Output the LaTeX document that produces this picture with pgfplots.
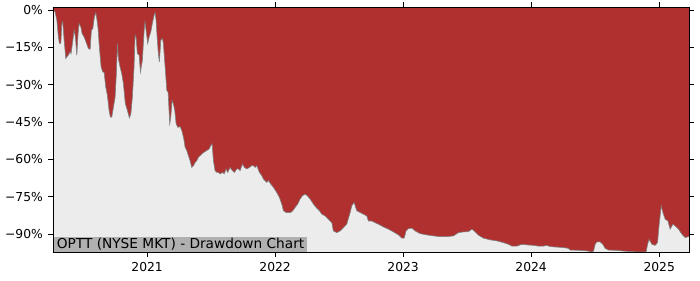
\documentclass[border=0pt]{standalone}
\usepackage{fontspec}
\setmainfont{DejaVu Sans}
\usepackage{pgfplots}
\usepackage{pgfplotstable}
\pgfplotsset{compat=1.18}
\definecolor{ddred}{RGB}{176,48,48}
\definecolor{bggray}{RGB}{236,236,236}
\definecolor{boxgray}{RGB}{176,176,176}
\pgfplotstableread{
x y
2020.268 0
2020.281 -0.7
2020.295 -4.0
2020.307 -10.8
2020.315 -13.4
2020.326 -13.4
2020.334 -5.4
2020.341 -4.7
2020.352 -12.1
2020.365 -19.5
2020.373 -18.8
2020.385 -18.1
2020.398 -16.8
2020.406 -17.5
2020.420 -12.1
2020.430 -8.1
2020.440 -10.8
2020.451 -18.1
2020.461 -9.4
2020.469 -5.4
2020.482 -6.7
2020.492 -9.4
2020.508 -10.8
2020.523 -12.8
2020.541 -15.4
2020.555 -15.8
2020.565 -8.1
2020.576 -7.4
2020.588 -2.7
2020.599 -1.1
2020.607 -3.3
2020.617 -7.4
2020.627 -14.8
2020.641 -22.9
2020.654 -24.9
2020.664 -24.9
2020.677 -30.9
2020.690 -34.3
2020.703 -40.3
2020.713 -43.0
2020.724 -43.0
2020.737 -39.0
2020.750 -35.0
2020.760 -25.5
2020.768 -13.4
2020.776 -19.5
2020.789 -22.9
2020.802 -25.5
2020.815 -29.6
2020.830 -37.6
2020.846 -40.3
2020.862 -43.3
2020.873 -41.7
2020.885 -35.0
2020.898 -22.9
2020.906 -10.1
2020.914 -10.8
2020.924 -17.5
2020.938 -18.1
2020.948 -24.9
2020.963 -20.2
2020.977 -8.1
2020.984 -4.7
2020.995 -9.4
2021.005 -13.4
2021.016 -10.8
2021.029 -8.7
2021.041 -5.4
2021.055 -2.0
2021.063 -1.1
2021.070 -4.0
2021.080 -12.1
2021.088 -17.5
2021.096 -20.8
2021.107 -12.1
2021.120 -11.4
2021.127 -13.4
2021.141 -22.9
2021.154 -32.3
2021.164 -32.9
2021.177 -45.7
2021.185 -43.0
2021.195 -36.3
2021.205 -37.6
2021.216 -40.3
2021.227 -45.7
2021.240 -47.1
2021.258 -46.8
2021.271 -48.4
2021.284 -51.1
2021.289 -52.4
2021.297 -55.1
2021.310 -56.4
2021.323 -58.5
2021.336 -60.5
2021.349 -63.2
2021.362 -62.5
2021.375 -61.2
2021.388 -60.5
2021.401 -59.1
2021.414 -58.5
2021.427 -57.8
2021.445 -57.1
2021.466 -56.4
2021.484 -55.8
2021.498 -54.4
2021.508 -53.7
2021.518 -60.5
2021.531 -64.5
2021.545 -65.2
2021.557 -65.2
2021.570 -65.8
2021.591 -65.2
2021.602 -65.8
2021.617 -63.8
2021.630 -65.2
2021.648 -63.2
2021.666 -64.5
2021.682 -65.2
2021.701 -63.8
2021.713 -63.8
2021.727 -64.5
2021.745 -61.8
2021.760 -63.2
2021.779 -63.8
2021.799 -63.2
2021.818 -62.5
2021.830 -62.5
2021.844 -63.2
2021.857 -62.5
2021.877 -65.2
2021.896 -66.5
2021.909 -67.9
2021.935 -69.2
2021.948 -68.5
2021.966 -69.9
2021.987 -71.2
2022.013 -73.3
2022.034 -75.3
2022.052 -77.9
2022.065 -80.6
2022.086 -81.3
2022.104 -81.3
2022.121 -81.3
2022.138 -80.6
2022.156 -79.3
2022.177 -77.9
2022.195 -75.9
2022.213 -74.6
2022.234 -73.9
2022.252 -74.6
2022.273 -75.9
2022.299 -77.9
2022.320 -79.3
2022.346 -80.6
2022.365 -82.0
2022.391 -82.7
2022.416 -84.0
2022.443 -85.4
2022.455 -88.7
2022.482 -89.4
2022.508 -88.7
2022.534 -87.4
2022.560 -85.9
2022.586 -81.3
2022.599 -78.6
2022.617 -77.3
2022.638 -80.6
2022.664 -81.3
2022.690 -82.0
2022.716 -82.7
2022.729 -84.7
2022.755 -84.7
2022.781 -85.4
2022.807 -86.0
2022.846 -87.1
2022.885 -88.0
2022.924 -89.1
2022.963 -90.3
2022.990 -91.6
2023.008 -91.6
2023.023 -88.7
2023.041 -87.8
2023.068 -87.6
2023.094 -88.7
2023.133 -89.8
2023.185 -90.3
2023.237 -90.7
2023.289 -91.0
2023.341 -91.0
2023.393 -90.7
2023.432 -89.4
2023.471 -89.1
2023.510 -89.0
2023.537 -88.0
2023.555 -88.7
2023.588 -90.4
2023.627 -91.6
2023.680 -92.3
2023.732 -92.7
2023.784 -93.4
2023.823 -94.1
2023.849 -94.8
2023.888 -94.8
2023.927 -94.1
2023.966 -94.3
2024.018 -94.5
2024.057 -94.8
2024.096 -94.8
2024.122 -94.5
2024.148 -95.0
2024.201 -95.2
2024.252 -95.4
2024.291 -95.7
2024.305 -96.4
2024.383 -96.5
2024.448 -96.8
2024.474 -97.2
2024.487 -96.8
2024.500 -94.1
2024.513 -93.1
2024.539 -93.1
2024.560 -94.1
2024.578 -95.7
2024.604 -96.4
2024.670 -96.5
2024.721 -96.8
2024.773 -97.0
2024.852 -97.2
2024.898 -97.2
2024.909 -94.1
2024.922 -92.1
2024.943 -94.1
2024.969 -94.5
2024.987 -93.4
2025.000 -86.0
2025.016 -78.6
2025.029 -81.3
2025.047 -84.0
2025.068 -84.7
2025.086 -88.0
2025.107 -86.0
2025.125 -86.7
2025.151 -88.0
2025.177 -90.0
2025.203 -91.4
2025.229 -91.0
2025.236 -91.0
}\dd
\begin{document}
\begin{tikzpicture}
\begin{axis}[
  name=ax,
  scale only axis,
  width=459.6pt, height=177.1pt,
  xmin=2020.265, xmax=2025.233,
  ymin=-97.35, ymax=1.1,
  axis background/.style={fill=bggray},
  axis line style={line width=0.6pt, black},
  tick align=outside,
  major tick length=3.5pt,
  tick style={line width=0.55pt, black},
  xtick={2021,2022,2023,2024,2025},
  xticklabels={2021,2022,2023,2024,2025},
  ytick={0,-15,-30,-45,-60,-75,-90},
  yticklabels={0\%,−15\%,−30\%,−45\%,−60\%,−75\%,−90\%},
  ticklabel style={font=\fontsize{8.9pt}{10.5pt}\selectfont},
  xticklabel style={yshift=-0.3pt},
  yticklabel style={xshift=-0.3pt},
  axis on top,
  clip=true,
]
\addplot[fill=ddred, draw=none] table {\dd} -- (axis cs:2025.3,5) -- (axis cs:2020.2,5) -- cycle;
\addplot[draw=gray, line width=0.45pt] table {\dd};
\end{axis}
\node[anchor=south west, fill=boxgray, inner xsep=2.3pt, inner ysep=0.8pt,
      text height=7.3pt, text depth=1.5pt, font=\fontsize{9.9pt}{11pt}\selectfont]
  at ([xshift=0.3pt,yshift=0.3pt]ax.south west) {OPTT (NYSE MKT) - Drawdown Chart};
\path ([xshift=-38.3pt,yshift=-20.0pt]ax.south west) rectangle ([xshift=7.95pt,yshift=5.3pt]ax.north east);
\end{tikzpicture}
\end{document}
